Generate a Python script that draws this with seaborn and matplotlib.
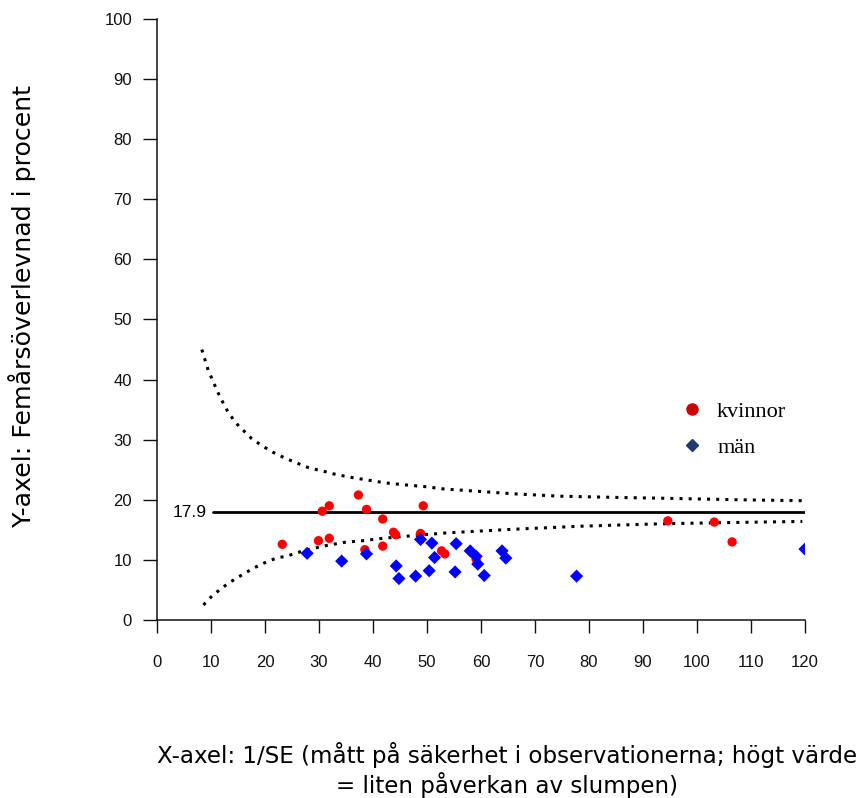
import numpy as np
import pandas as pd
import matplotlib
matplotlib.use("Agg")
import matplotlib.pyplot as plt
from matplotlib.lines import Line2D
import seaborn as sns


# data
kvinnor_x = [23.2, 29.9, 31.9, 30.6, 31.9, 37.3, 38.8, 38.5, 41.8, 41.8, 43.8, 44.2,
             49.3, 48.8, 52.7, 53.3, 59.1, 94.6, 103.2, 106.5]
kvinnor_y = [12.6, 13.2, 13.6, 18.1, 19.0, 20.8, 18.4, 11.7, 16.8, 12.3, 14.6, 14.2,
             19.0, 14.4, 11.5, 11.0, 10.1, 16.5, 16.3, 13.0]

man_x = [27.8, 34.2, 38.8, 44.3, 44.8, 47.9, 48.8, 50.4, 50.9, 51.4, 55.4, 55.2,
         58.0, 59.4, 59.1, 60.6, 63.9, 64.6, 77.7, 120.0]
man_y = [11.1, 9.8, 11.0, 9.0, 6.9, 7.3, 13.4, 8.2, 12.8, 10.4, 12.7, 8.0,
         11.5, 9.3, 10.6, 7.4, 11.5, 10.3, 7.3, 11.8]

mean_value = 17.9
mean_x = [10.4, 120]

upper_x = [8.3, 9.5, 10.4, 11.2, 12.2, 13.1, 14.1, 15.2, 16.4, 17.5, 18.8, 20.0, 21.5,
           23.1, 24.6, 26.0, 27.5, 29.1, 30.7, 32.2, 35.5, 38.9, 42.4, 45.8, 49.5,
           53.2, 58.0, 66.0, 74.6, 85.0, 97.0, 108.0, 119.6]
upper_y = [45.0, 41.5, 39.7, 38.0, 36.2, 34.7, 33.4, 32.2, 31.2, 30.2, 29.4, 28.7, 27.9,
           27.2, 26.6, 26.1, 25.5, 25.1, 24.8, 24.4, 23.8, 23.3, 22.8, 22.5, 22.2,
           21.8, 21.5, 21.0, 20.6, 20.4, 20.2, 20.0, 19.85]

lower_x = [8.6, 10.1, 11.7, 13.2, 14.8, 16.3, 17.8, 19.4, 20.9, 22.5, 24.0, 25.6, 27.1,
           30.8, 34.5, 38.2, 41.9, 47.0, 53.7, 66.0, 78.3, 93.0, 105.0, 119.5]
lower_y = [2.5, 3.9, 5.1, 6.1, 7.0, 7.8, 8.6, 9.3, 9.9, 10.4, 10.6, 11.1, 11.5,
           12.3, 12.9, 13.2, 13.6, 14.0, 14.5, 15.1, 15.6, 16.0, 16.2, 16.4]

x_ticks = list(range(0, 121, 10))
y_ticks = list(range(0, 101, 10))

df = pd.DataFrame({
    'x': kvinnor_x + man_x,
    'y': kvinnor_y + man_y,
    'grupp': ['kvinnor'] * len(kvinnor_x) + ['män'] * len(man_x),
})

sns.set_style("ticks")
plt.rcParams['font.family'] = ['Liberation Sans', 'DejaVu Sans']
plt.rcParams['text.color'] = 'black'

fig = plt.figure(figsize=(8.66, 7.98), dpi=100)
ax = fig.add_axes([157 / 866, 1 - 620 / 798, (805 - 157) / 866, (620 - 19) / 798])

# funnel limits
ax.plot(upper_x, upper_y, color='black', lw=2.2, ls=(0, (1, 2)), dash_capstyle='butt')
ax.plot(lower_x, lower_y, color='black', lw=2.2, ls=(0, (1, 2)), dash_capstyle='butt')
ax.plot(mean_x, [mean_value, mean_value], color='black', lw=2)
ax.text(9.2, mean_value, f'{mean_value}', ha='right', va='center', fontsize=12.5)

sns.scatterplot(data=df, x='x', y='y', hue='grupp', style='grupp',
                palette={'kvinnor': '#ff0000', 'män': '#0000ff'},
                markers={'kvinnor': 'o', 'män': 'D'},
                s=45, linewidth=0, legend=False, ax=ax, zorder=3)

ax.set_xlim(0, 120)
ax.set_ylim(0, 100)
ax.set_xticks(x_ticks)
ax.set_yticks(y_ticks)
ax.set_xlabel('')
ax.set_ylabel('')
ax.tick_params(axis='x', length=9, width=1, pad=16, labelsize=12, colors='#111111')
ax.tick_params(axis='y', length=10, width=1, pad=8, labelsize=12, colors='#111111')
sns.despine(ax=ax)
for sp in ['left', 'bottom']:
    ax.spines[sp].set_linewidth(1.1)
    ax.spines[sp].set_color('#111111')

handles = [
    Line2D([], [], ls='none', marker='o', color='#cc0000', markersize=8),
    Line2D([], [], ls='none', marker='D', color='#1f3a6e', markersize=6),
]
ax.legend(handles, ['kvinnor', 'män'], loc='upper left',
          bbox_to_anchor=(666 / 866, 1 - 386 / 798), bbox_transform=fig.transFigure,
          frameon=False, handlelength=0.9, handletextpad=0.7, labelspacing=0.7,
          borderpad=0.2, prop={'family': 'Liberation Serif', 'size': 16})

fig.text(22 / 866, 1 - 307 / 798, 'Y-axel: Femårsöverlevnad i procent',
         rotation=90, ha='center', va='center', fontsize=18.2, family='DejaVu Sans')
fig.text(507 / 866, 1 - 770 / 798,
         'X-axel: 1/SE (mått på säkerhet i observationerna; högt värde\n= liten påverkan av slumpen)',
         ha='center', va='center', multialignment='center', fontsize=16.6,
         family='DejaVu Sans', linespacing=1.15)

fig.savefig('out.png', dpi=100, facecolor='white')
